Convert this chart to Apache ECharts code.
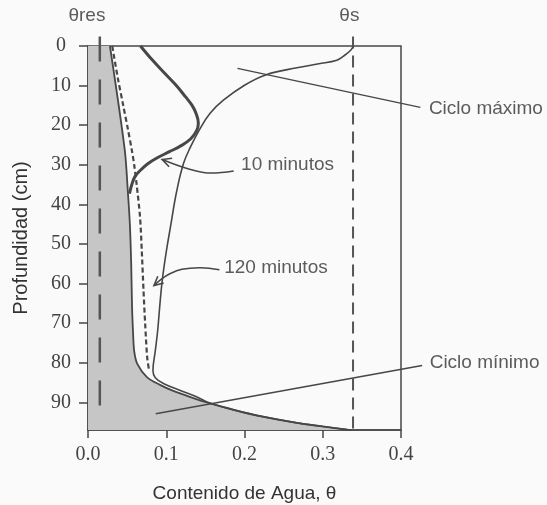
<!DOCTYPE html>
<html><head><meta charset="utf-8">
<script src="https://cdn.jsdelivr.net/npm/echarts@6/dist/echarts.min.js"></script>
<style>html,body{margin:0;padding:0;background:#fafafa}#c{width:547px;height:505px}</style>
</head><body><div id="c"></div>
<script>
// ---- data ----
const xTicks = [0, 0.1, 0.2, 0.3, 0.4];
const yTicks = [0, 10, 20, 30, 40, 50, 60, 70, 80, 90];
const depthMax = 97;
const thetaRes = 0.0151;
const thetaS = 0.3387;

const minTheta = [0.028, 0.047, 0.051, 0.0535, 0.0552, 0.0563, 0.0575, 0.059, 0.063, 0.0756, 0.092, 0.1075, 0.131, 0.156, 0.19, 0.22, 0.267, 0.30, 0.331, 0.336];
const minDepth = [0, 26.3, 37, 45, 55, 66, 72, 77, 80.3, 83.7, 85.6, 87, 88.7, 90.3, 92.1, 93.5, 95.2, 96.1, 96.9, 97];

const maxTheta = [0.339, 0.336, 0.327, 0.318, 0.295, 0.267, 0.227, 0.2, 0.173, 0.156, 0.142, 0.131, 0.122, 0.113, 0.106, 0.100, 0.095, 0.092, 0.089, 0.086, 0.083, 0.086, 0.097, 0.118, 0.14, 0.156, 0.19, 0.22, 0.267, 0.30, 0.331, 0.336];
const maxDepth = [0, 1, 2.5, 3.6, 4.5, 5.5, 7.3, 9.9, 13.7, 17, 21.3, 25.5, 29.7, 37, 45, 52, 59, 65, 72, 77, 82, 83.8, 85.3, 87, 88.7, 90.2, 92.1, 93.5, 95.2, 96.1, 96.9, 97];

const min10Theta = [0.067, 0.082, 0.098, 0.112, 0.1245, 0.133, 0.138, 0.141, 0.139, 0.131, 0.118, 0.104, 0.088, 0.076, 0.067, 0.06, 0.056, 0.053];
const min10Depth = [0, 3.5, 6.9, 9.8, 12.8, 15, 17, 19.5, 21.3, 23.5, 25.3, 26.7, 28.3, 29.8, 31.4, 33, 35, 37.3];

const min120Theta = [0.031, 0.038, 0.045, 0.051, 0.056, 0.059, 0.062, 0.0665, 0.0687, 0.071, 0.073, 0.0756, 0.0777];
const min120Depth = [0, 8, 15, 21, 26.3, 30, 34.7, 43.2, 51.6, 62, 70, 78.6, 81.5];

// annotation leaders (data coordinates)
const leaderMaxTheta = [0.191, 0.4247];
const leaderMaxDepth = [5.65, 15.5];
const leaderMinTheta = [0.0866, 0.427];
const leaderMinDepth = [92.9, 80.7];
const arrow10Theta = [0.1862, 0.1522, 0.1267, 0.0948];
const arrow10Depth = [31.55, 32.06, 30.95, 28.67];
const arrow120Theta = [0.168, 0.144, 0.12, 0.104, 0.093, 0.0843];
const arrow120Depth = [56.5, 56.0, 56.4, 57.6, 59.0, 60.5];

const labelNames = ['θres', 'θs', 'Ciclo máximo', '10 minutos', '120 minutos', 'Ciclo mínimo'];
const labelTheta = [-0.0014, 0.334, 0.435, 0.195, 0.1734, 0.436];
const labelDepth = [-7.7, -7.6, 15.8, 29.9, 56.0, 79.9];

// ---- build ----
const zip = (a, b) => a.map((v, i) => [v, b[i]]);
const minPairs = zip(minTheta, minDepth);
const lineCol = '#474747';
const txtCol = '#333';

const labelData = labelNames.map((n, i) => ({
  name: n, value: [labelTheta[i], labelDepth[i]],
  label: { position: i < 2 ? 'inside' : 'right', distance: 0 }
}));

const baseLine = (data, width, extra) => Object.assign({
  type: 'line', data, symbol: 'none', clip: false, silent: true, z: 3,
  lineStyle: { color: lineCol, width }
}, extra || {});

// leader line drawn through the axes' scales; optional open arrowhead at last point
function leader(pairs, arrow, smooth) {
  return {
    type: 'custom', coordinateSystem: 'cartesian2d', data: pairs, encode: { x: 0, y: 1 },
    clip: false, silent: true, z: 4,
    renderItem: (params, api) => {
      if (params.dataIndex !== 0) return null;
      const pts = pairs.map(p => api.coord(p));
      const children = [{ type: 'polyline', shape: { points: pts, smooth: smooth || 0 }, style: { stroke: lineCol, lineWidth: 1.5, fill: null } }];
      if (arrow) {
        const a = pts[pts.length - 1], b = pts[pts.length - 2];
        let dx = a[0] - b[0], dy = a[1] - b[1];
        const L = Math.hypot(dx, dy); dx /= L; dy /= L;
        const len = 9, w = 4.5;
        children.push({ type: 'polyline', shape: { points: [
          [a[0] - len * dx - w * dy, a[1] - len * dy + w * dx], a,
          [a[0] - len * dx + w * dy, a[1] - len * dy - w * dx]] },
          style: { stroke: lineCol, lineWidth: 1.6, fill: null } });
      }
      return { type: 'group', children };
    }
  };
}

const chart = echarts.init(document.getElementById('c'), null, { renderer: 'canvas' });
chart.setOption({
  animation: false,
  backgroundColor: '#fafafa',
  grid: { left: 88, right: 146, top: 46, bottom: 75, show: true, borderColor: lineCol, borderWidth: 1.5, backgroundColor: 'transparent', outerBoundsMode: 'none' },
  xAxis: {
    type: 'value', min: xTicks[0], max: xTicks[xTicks.length - 1], interval: 0.1,
    axisLine: { show: true, onZero: false, lineStyle: { color: lineCol, width: 1.5 } },
    axisTick: { show: true, length: 8, lineStyle: { color: lineCol, width: 1.5 } },
    axisLabel: { formatter: v => v.toFixed(1), fontFamily: 'Liberation Serif', fontSize: 20, color: '#444', margin: 15 },
    splitLine: { show: false },
    name: 'Contenido de Agua, θ', nameLocation: 'middle', nameGap: 54,
    nameTextStyle: { fontFamily: 'Liberation Sans', fontSize: 19, color: txtCol }
  },
  yAxis: {
    type: 'value', inverse: true, min: 0, max: depthMax,
    axisLine: { show: true, onZero: false, lineStyle: { color: lineCol, width: 1.5 } },
    axisTick: { show: true, length: 9, customValues: yTicks, lineStyle: { color: lineCol, width: 1.5 } },
    axisLabel: { customValues: yTicks, fontFamily: 'Liberation Serif', fontSize: 20, color: '#444', margin: 27, align: 'center' },
    splitLine: { show: false },
    name: 'Profundidad (cm)', nameLocation: 'middle', nameGap: 57,
    nameTextStyle: { fontFamily: 'Liberation Sans', fontSize: 20, color: txtCol }
  },
  series: [
    {
      type: 'custom', coordinateSystem: 'cartesian2d', data: minPairs, encode: { x: 0, y: 1 }, z: 1, silent: true,
      renderItem: (params, api) => {
        if (params.dataIndex !== 0) return null;
        const pts = [api.coord([0, 0])];
        minPairs.forEach(p => pts.push(api.coord(p)));
        pts.push(api.coord([0, depthMax]));
        return { type: 'polygon', shape: { points: pts, smooth: 0 }, style: { fill: '#c6c6c6' } };
      }
    },
    baseLine([[thetaRes, -2.4], [thetaRes, 94.4]], 2.5, { lineStyle: { color: '#555', width: 2.5, type: [25, 18] } }),
    baseLine([[thetaS, -2.4], [thetaS, depthMax]], 2, { lineStyle: { color: '#555', width: 2, type: [12, 7] } }),
    baseLine(minPairs, 1.8, { smooth: 0.3 }),
    baseLine(zip(maxTheta, maxDepth), 1.6, { smooth: 0.4 }),
    baseLine(zip(min10Theta, min10Depth), 3, { smooth: 0.4 }),
    baseLine(zip(min120Theta, min120Depth), 2.2, { smooth: 0.3, lineStyle: { color: lineCol, width: 2.2, type: [5, 3] } }),
    leader(zip(leaderMaxTheta, leaderMaxDepth), false, 0),
    leader(zip(leaderMinTheta, leaderMinDepth), false, 0),
    leader(zip(arrow10Theta, arrow10Depth), true, 0.4),
    leader(zip(arrow120Theta, arrow120Depth), true, 0.4),
    {
      type: 'scatter', data: labelData, symbolSize: 1, clip: false, silent: true, z: 5,
      itemStyle: { color: 'rgba(0,0,0,0)' },
      label: { show: true, formatter: p => p.name, fontFamily: 'Liberation Sans', fontSize: 19, color: txtCol }
    }
  ]
});
</script>
</body></html>
